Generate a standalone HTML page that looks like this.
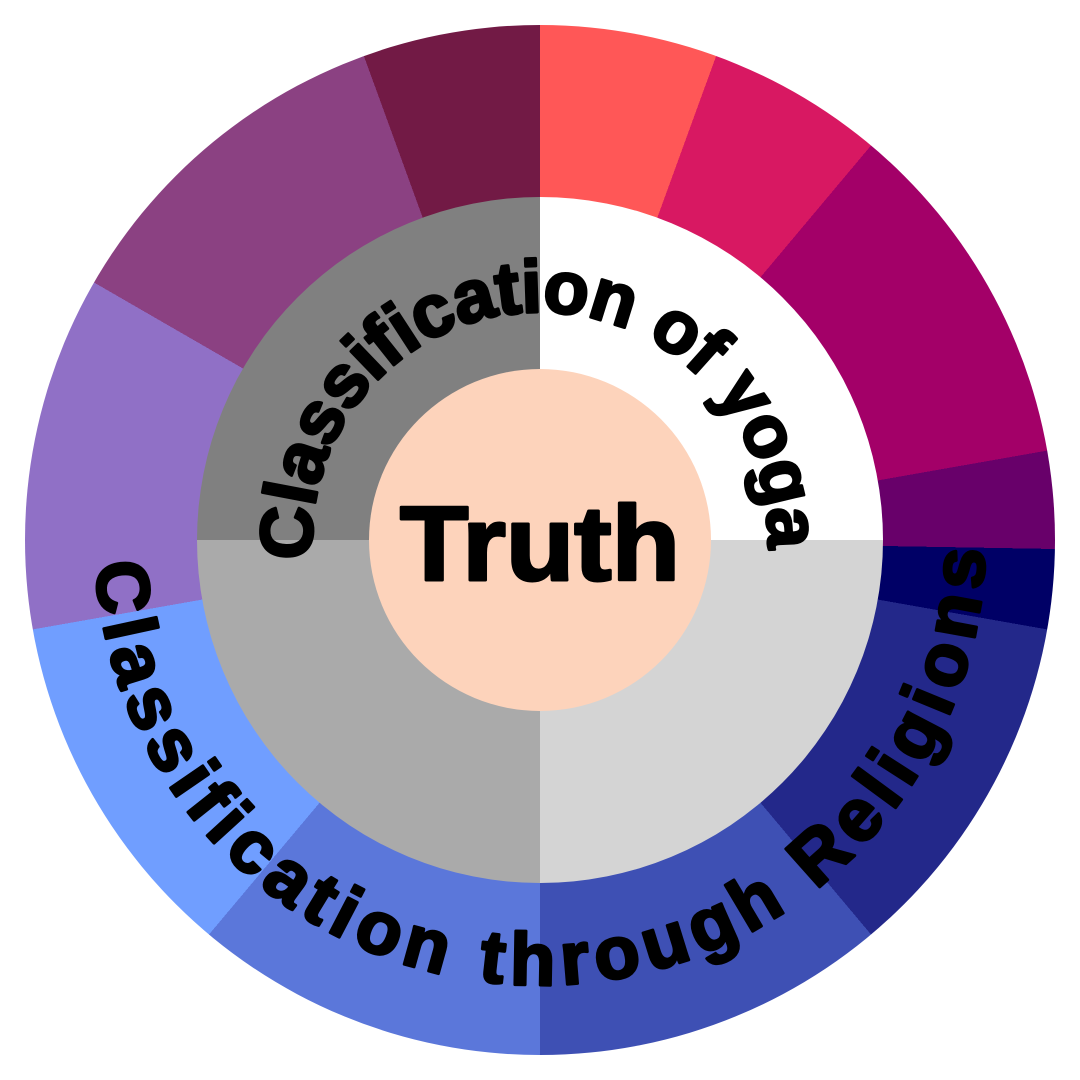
<!DOCTYPE html>
<html><head><style>
html,body{margin:0;padding:0;background:#fff;width:1080px;height:1080px;overflow:hidden}
.r{position:absolute;border-radius:50%}
</style></head><body>
<div class="r" style="left:25px;top:25px;width:1030px;height:1030px;background:conic-gradient(#FF5757 0deg 20deg,#D81862 20deg 40deg,#A30068 40deg 80deg,#68006A 80deg 91deg,#000066 91deg 100deg,#23288A 100deg 140deg,#3E50B4 140deg 180deg,#5B77DA 180deg 220deg,#709EFF 220deg 260deg,#9070C6 260deg 300deg,#8B4182 300deg 340deg,#721A45 340deg 360deg)"></div>
<div class="r" style="left:197px;top:197px;width:686px;height:686px;background:conic-gradient(#FFFFFF 0deg 90deg,#D4D4D4 90deg 180deg,#AAAAAA 180deg 270deg,#808080 270deg 360deg)"></div>
<div class="r" style="left:369px;top:369px;width:342px;height:342px;background:#FDD3BB"></div>
<svg width="1080" height="1080" style="position:absolute;left:0;top:0">
<defs>
<path id="top" d="M312.9,559.9 A228,228 0 0 1 540,312 A228,228 0 0 1 767.1,559.9"/>
<path id="bot" d="M95.6,563.3 A445,445 0 0 0 540,985 A445,445 0 0 0 984.4,563.3 A445,445 0 0 0 984.4,516.7"/>
</defs>
<g font-family="Liberation Sans, sans-serif" font-weight="bold" fill="#000" stroke="#000" stroke-width="3" stroke-linejoin="round">
<text font-size="74"><textPath href="#top" textLength="745" lengthAdjust="spacing">Classification of yoga</textPath></text>
<text font-size="74"><textPath href="#bot" textLength="1365" lengthAdjust="spacing">Classification through Religions</textPath></text>
<text x="540" y="580" text-anchor="middle" font-size="106" textLength="280" lengthAdjust="spacingAndGlyphs">Truth</text>
</g>
</svg>
</body></html>
